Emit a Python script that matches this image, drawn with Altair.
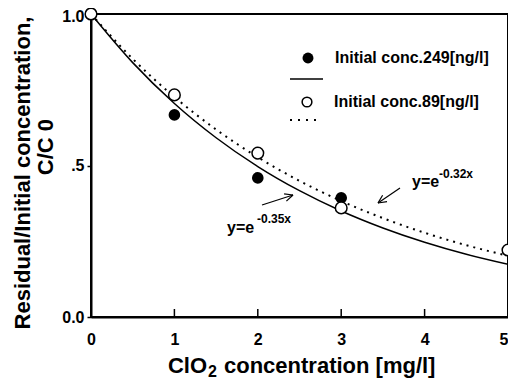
import altair as alt
import pandas as pd

FONT = "Liberation Sans"

# ---- data ----
x_filled = [0, 1, 2, 3]
y_filled = [1.0, 0.667, 0.459, 0.393]          # Initial conc. 249 ng/l
x_open = [0, 1, 2, 3, 5]
y_open = [1.0, 0.733, 0.541, 0.360, 0.221]     # Initial conc. 89 ng/l

curve_x = [0, 0.5, 1.0, 1.5, 2.0, 2.5, 3.0, 3.5, 4.0, 4.5, 5.0]
fit_249 = [1.0, 0.8395, 0.7047, 0.5916, 0.4966, 0.4169, 0.3499, 0.2938, 0.2466, 0.2070, 0.1738]  # y=e^-0.35x
fit_89 = [1.0, 0.8521, 0.7261, 0.6188, 0.5273, 0.4493, 0.3829, 0.3263, 0.2780, 0.2369, 0.2019]   # y=e^-0.32x

x_ticks = [0, 1, 2, 3, 4, 5]
x_inner_ticks = [1, 2, 3, 4]
y_ticks = [0, 0.5, 1.0]

W, H = 417, 303

df_filled = pd.DataFrame({"x": x_filled, "y": y_filled})
df_open = pd.DataFrame({"x": x_open, "y": y_open})
df_c249 = pd.DataFrame({"x": curve_x, "y": fit_249})
df_c89 = pd.DataFrame({"x": curve_x, "y": fit_89})
df_ticks = pd.DataFrame({"x": x_inner_ticks})

xscale = alt.Scale(domain=[0, 5], nice=False, zero=False)
yscale = alt.Scale(domain=[0, 1], nice=False, zero=False)

xaxis = alt.Axis(values=x_ticks, title=None, grid=False, ticks=False,
                 labelFont=FONT, labelFontSize=16, labelFontWeight="bold",
                 labelColor="black", labelPadding=14, domainColor="black",
                 domainWidth=2, labelFlush=False,
                 labelAlign={"condition": {"test": "datum.value == 5", "value": "right"},
                             "value": "center"})
yaxis = alt.Axis(values=y_ticks, title=None, grid=False, tickSize=4,
                 tickColor="black", tickWidth=1.5,
                 labelExpr="datum.value == 0 ? '0.0' : (datum.value == 1 ? '1.0' : '.5')",
                 labelFont=FONT, labelFontSize=16, labelFontWeight="bold",
                 labelColor="black", labelPadding=3, domainColor="black",
                 domainWidth=2, labelFlush=False,
                 labelOffset={"condition": {"test": "datum.value == 1", "value": 2},
                              "value": 0})

X = alt.X("x:Q", scale=xscale, axis=xaxis)
Y = alt.Y("y:Q", scale=yscale, axis=yaxis)

line249 = alt.Chart(df_c249).mark_line(color="black", strokeWidth=1.5,
                                       interpolate="monotone").encode(x=X, y=Y)
line89 = alt.Chart(df_c89).mark_line(color="black", strokeWidth=2,
                                     strokeDash=[2, 5],
                                     interpolate="monotone").encode(x=X, y=Y)
pts_filled = alt.Chart(df_filled).mark_point(shape="circle", filled=True,
                                             color="black", size=135,
                                             opacity=1).encode(x=X, y=Y)
pts_open = alt.Chart(df_open).mark_point(shape="circle", filled=False,
                                         fill="white", stroke="black",
                                         strokeWidth=1.5, size=135,
                                         opacity=1, fillOpacity=1).encode(x=X, y=Y)
inner_ticks = alt.Chart(df_ticks).mark_rule(color="black", strokeWidth=1.5).encode(
    x=X, y=alt.datum(0, scale=yscale), y2=alt.value(H - 8))


def label(text, px, py, size, align="left", angle=0, baseline="alphabetic"):
    return alt.Chart(pd.DataFrame({"t": [text]})).mark_text(
        text=text, font=FONT, fontSize=size, fontWeight="bold", align=align,
        baseline=baseline, angle=angle, color="black").encode(
        x=alt.value(px), y=alt.value(py))


def seg(x1, y1, x2, y2, width=1.2, dash=None):
    kw = dict(color="black", strokeWidth=width)
    if dash:
        kw["strokeDash"] = dash
    return alt.Chart(pd.DataFrame({"t": [0]})).mark_rule(**kw).encode(
        x=alt.value(x1), y=alt.value(y1), x2=alt.value(x2), y2=alt.value(y2))


def legend_point(px, py, filled):
    if filled:
        m = alt.Chart(pd.DataFrame({"t": [0]})).mark_point(
            shape="circle", filled=True, color="black", size=120, opacity=1)
    else:
        m = alt.Chart(pd.DataFrame({"t": [0]})).mark_point(
            shape="circle", filled=False, stroke="black", fill="white",
            strokeWidth=1.5, size=95, opacity=1)
    return m.encode(x=alt.value(px), y=alt.value(py))


layers = [
    line249, line89, inner_ticks, pts_filled, pts_open,
    # legend
    legend_point(217, 44, True),
    label("Initial conc.249[ng/l]", 244, 44, 16, baseline="middle"),
    seg(199, 65, 232, 65, width=1.5),
    legend_point(216, 88, False),
    label("Initial conc.89[ng/l]", 243, 88, 16, baseline="middle"),
    seg(199, 106, 228, 106, width=2, dash=[2, 6]),
    # fit annotations
    label("y=e", 321, 173, 16),
    label("-0.32x", 348, 164, 12),
    seg(309, 174, 287, 189),
    seg(287, 189, 296, 187.6),
    seg(287, 189, 291.6, 181.3),
    label("y=e", 136, 219, 16),
    label("-0.35x", 166, 209, 12),
    seg(171, 191, 202, 181),
    seg(202, 181, 193.1, 179.9),
    seg(202, 181, 195.4, 187.1),
    # axis titles
    label("Residual/Initial concentration,", -61, 159, 22, align="center", angle=270),
    label("C/C 0", -38, 133, 22, align="center", angle=270),
    label("ClO", 116, 359, 22, align="right"),
    label("2", 117, 363, 16),
    label("concentration [mg/l]", 133, 359, 22),
]

chart = alt.layer(*layers).properties(
    width=W, height=H,
    autosize=alt.AutoSizeParams(type="none"),
    padding={"left": 83, "top": 6, "right": 0, "bottom": 64},
).configure_view(stroke="black", strokeWidth=2)

chart.save("out.html", embed_options={"renderer": "svg", "actions": False})
